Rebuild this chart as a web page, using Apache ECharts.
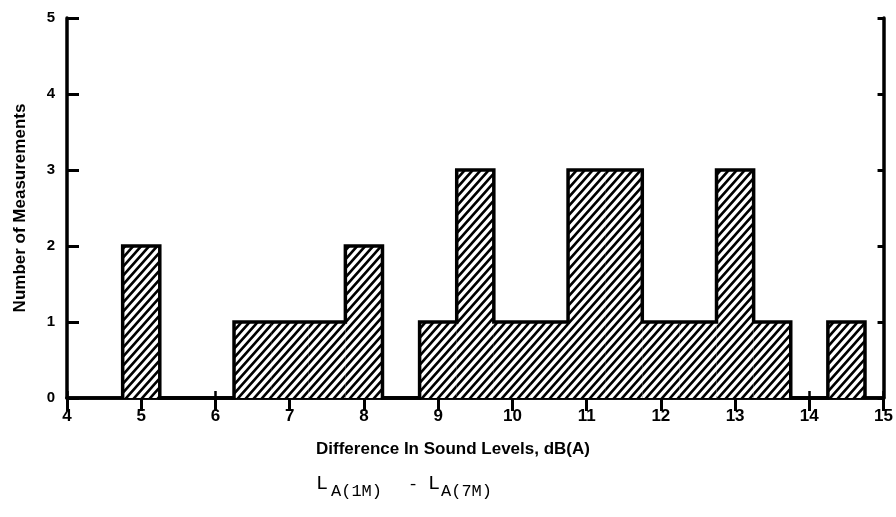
<!DOCTYPE html>
<html><head><meta charset="utf-8">
<script src="https://cdn.jsdelivr.net/npm/echarts@6/dist/echarts.min.js"></script>
<style>html,body{margin:0;padding:0;background:#fff}#c{width:896px;height:517px}</style>
</head><body><div id="c"></div>
<script>
// Bin centres (dB(A)), bin width 0.5
const binCenters = [5, 5.5, 6, 6.5, 7, 7.5, 8, 8.5, 9, 9.5, 10, 10.5, 11, 11.5, 12, 12.5, 13, 13.5, 14, 14.5];
const counts     = [2, 0,   0, 1,   1, 1,   2, 0,   1, 3,   1,  1,    3,  3,    1,  1,    3,  1,    0,  1];
const binWidth = 0.5;
const xTicks = [4, 5, 6, 7, 8, 9, 10, 11, 12, 13, 14, 15];
const yTicks = [0, 1, 2, 3, 4, 5];

// hatch pattern: "/" lines, tile tw x th
const tw = 8, th = 9;
const pc = document.createElement('canvas');
pc.width = tw; pc.height = th;
const g = pc.getContext('2d');
g.fillStyle = '#fff'; g.fillRect(0, 0, tw, th);
g.strokeStyle = '#000'; g.lineWidth = 2.6;
g.beginPath();
for (let k = -1; k <= 1; k++) {
  g.moveTo(k * tw - tw, 2 * th); g.lineTo(k * tw + 2 * tw, -th);
}
g.stroke();
const hatch = { image: pc, repeat: 'repeat' };

const barData = binCenters.map((c, i) => [c - binWidth / 2, c + binWidth / 2, counts[i]]).filter(d => d[2] > 0);

const outline = [];
outline.push([binCenters[0] - binWidth / 2, 0]);
binCenters.forEach((c, i) => {
  outline.push([c - binWidth / 2, counts[i]]);
  outline.push([c + binWidth / 2, counts[i]]);
});
outline.push([binCenters[binCenters.length - 1] + binWidth / 2, 0]);

const mono = 'Liberation Mono';
const chart = echarts.init(document.getElementById('c'));
chart.setOption({
  animation: false,
  backgroundColor: '#fff',
  grid: { left: 67, right: 9, top: 18, bottom: 119 },
  xAxis: [{
    type: 'value', min: xTicks[0], max: xTicks[xTicks.length - 1], interval: 1, position: 'bottom',
    axisLine: { lineStyle: { color: '#000', width: 3.5 } },
    axisTick: { inside: true, length: 7, lineStyle: { color: '#000', width: 2.5 } },
    axisLabel: { margin: 10, fontFamily: 'Liberation Sans', fontWeight: 'bold', fontSize: 17, color: '#000' },
    splitLine: { show: false }
  }, {
    type: 'value', min: xTicks[0], max: xTicks[xTicks.length - 1], interval: 1, position: 'top',
    axisLine: { show: true, lineStyle: { color: '#000', width: 3.5 } },
    axisTick: { inside: true, length: 13, lineStyle: { color: '#000', width: 3 } },
    axisLabel: { show: false }, splitLine: { show: false }
  }],
  yAxis: [{
    type: 'value', min: yTicks[0], max: yTicks[yTicks.length - 1], interval: 1, position: 'left',
    axisLine: { show: true, lineStyle: { color: '#000', width: 3.5 } },
    axisTick: { show: true, inside: true, length: 12, lineStyle: { color: '#000', width: 3 } },
    axisLabel: { margin: 12, fontFamily: 'Liberation Sans', fontWeight: 'bold', fontSize: 15, color: '#000' },
    splitLine: { show: false },
    name: 'Number of Measurements', nameLocation: 'middle', nameGap: 38, nameRotate: 90,
    nameTextStyle: { fontFamily: 'Liberation Sans', fontWeight: 'bold', fontSize: 17, color: '#000' }
  }, {
    type: 'value', min: yTicks[0], max: yTicks[yTicks.length - 1], interval: 1, position: 'right',
    axisLine: { show: true, lineStyle: { color: '#000', width: 3.5 } },
    axisTick: { show: true, inside: true, length: 6, lineStyle: { color: '#000', width: 3 } },
    axisLabel: { show: false }, splitLine: { show: false }
  }],
  series: [{
    type: 'custom',
    data: barData,
    encode: { x: [0, 1], y: 2 },
    renderItem: function (params, api) {
      const p0 = api.coord([api.value(0), 0]);
      const p1 = api.coord([api.value(1), api.value(2)]);
      return { type: 'rect', shape: { x: p0[0], y: p1[1], width: p1[0] - p0[0], height: p0[1] - p1[1] },
               style: { fill: hatch, stroke: null } };
    },
    z: 1
  }, {
    type: 'line', data: outline, symbol: 'none', clip: false,
    lineStyle: { color: '#000', width: 3.5, join: 'miter' }, z: 3
  }],
  graphic: [{
    type: 'text', x: 453, y: 449,
    style: { text: 'Difference In Sound Levels, dB(A)', fontFamily: 'Liberation Sans', fontWeight: 'bold', fontSize: 17, fill: '#000', align: 'center', verticalAlign: 'middle' }
  },
  { type: 'text', x: 316, y: 474, style: { text: 'L', fontFamily: mono, fontSize: 20, fill: '#000' } },
  { type: 'text', x: 331, y: 483, style: { text: 'A(1M)', fontFamily: mono, fontSize: 17, fill: '#000' } },
  { type: 'text', x: 408, y: 476, style: { text: '-', fontFamily: mono, fontSize: 17, fill: '#000' } },
  { type: 'text', x: 428, y: 474, style: { text: 'L', fontFamily: mono, fontSize: 20, fill: '#000' } },
  { type: 'text', x: 441, y: 483, style: { text: 'A(7M)', fontFamily: mono, fontSize: 17, fill: '#000' } }
  ]
});
</script></body></html>
